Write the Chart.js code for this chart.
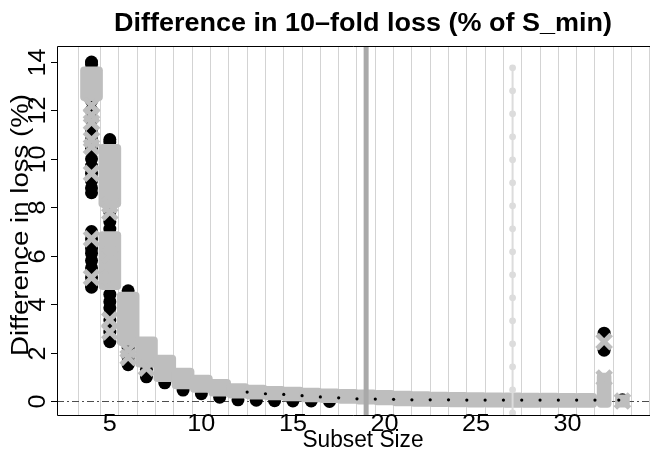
<!DOCTYPE html>
<html>
<head>
<meta charset="utf-8">
<script src="https://cdn.jsdelivr.net/npm/chart.js@4/dist/chart.umd.min.js"></script>
<style>
  html, body { margin:0; padding:0; background:#fff; }
  #wrap { width:665px; height:451px; }
</style>
</head>
<body>
<div id="wrap"><canvas id="c" width="665" height="451"></canvas></div>
<script>
// subset sizes and the spread of the loss difference (%) at each size
const sizes = [4,5,6,7,8,9,10,11,12,13,14,15,16,17,18,19,20,21,22,23,24,25,26,27,28,29,30,31];
const boxLo = [12.4,8.0,2.3,1.4,0.8,0.5,0.35,0.2,0.12,0.08,0.04,0.0,-0.04,-0.07,-0.1,-0.13,-0.16,-0.2,-0.22,-0.23,-0.24,-0.25,-0.25,-0.26,-0.26,-0.27,-0.27,-0.27];
const boxHi = [13.8,10.6,4.5,2.65,1.9,1.36,1.07,0.9,0.72,0.66,0.61,0.57,0.53,0.5,0.48,0.46,0.44,0.41,0.39,0.37,0.36,0.35,0.34,0.34,0.33,0.33,0.32,0.32];

// second cluster at size 5
const lowX  = [5];
const lowLo = [4.6];
const lowHi = [7.0];

// the tail at sizes 32 and 33
const tailX  = [32, 33];
const tailLo = [-0.27, -0.25];
const tailHi = [1.15, 0.25];

// individual models (black) and flagged models (grey crosses)
const blackPts = {
  4:  [14.0,13.9,12.9,12.4,12.0,11.6,11.2,10.8,10.4,10.0,9.7,9.4,9.1,8.8,8.6,7.0,6.7,6.3,6.1,5.8,5.5,5.1,4.7],
  5:  [10.8,10.7,8.2,8.0,7.8,7.4,7.1,6.0,5.1,4.4,4.1,3.85,3.6,3.35,3.1,2.85,2.6,2.45],
  6:  [4.55,2.2,2.0,1.8,1.6,1.5],
  7:  [1.3,1.1,1.0],
  8:  [0.75],
  9:  [0.45],
  10: [0.3],
  11: [0.16],
  12: [0.05], 13: [0.03], 14: [0.01], 15: [0.0], 16: [0.0], 17: [-0.02],
  32: [2.8,2.1,0.4,0.2],
  33: [0.05]
};
const crossPts = {
  4:  [12.2,11.8,11.5,10.8,10.5,9.4,6.7,5.1],
  5:  [8.1,7.8,6.0,5.1,3.35,2.85],
  6:  [2.1,1.8],
  7:  [1.36],
  32: [2.45,0.95],
  33: [0.0]
};

// running mean marks between sizes
const meanX = [12.5,13.5,14.5,15.5,16.5,17.5,18.5,19.5,20.5,21.5,22.5,23.5,24.5,25.5,26.5,27.5,28.5,29.5,30.5,31.5,32.8];
const meanY = [0.37,0.30,0.27,0.22,0.17,0.13,0.09,0.08,0.07,0.05,0.05,0.05,0.04,0.04,0.04,0.04,0.04,0.04,0.04,0.04,0.04];

// reference column at size 27
const refX = 27;
const refY = [13.76,12.81,11.86,10.91,9.96,9.01,8.06,7.11,6.16,5.21,4.26,3.31,2.36,1.41,0.46,-0.49];

const xTicks = [5,10,15,20,25,30];
const yTicks = [0,2,4,6,8,10,12,14];
const bestSize = 19;

const GREY = '#bebebe';
const FONT = '"Liberation Sans", Arial, sans-serif';

const flat = obj => Object.entries(obj).flatMap(([k, vs]) => vs.map(v => ({ x:+k, y:v })));

// text drawn with a horizontal stretch so it fills a given width
const txt = (ctx, s, x, y, font, w, rot) => {
  ctx.save();
  ctx.font = font;
  ctx.translate(x, y);
  if (rot) ctx.rotate(rot);
  const m = ctx.measureText(s).width;
  const sx = w ? w / m : 1;
  ctx.scale(sx, 1);
  ctx.textAlign = 'center';
  ctx.textBaseline = 'middle';
  ctx.fillStyle = '#000';
  ctx.fillText(s, 0, 0);
  ctx.restore();
};

const decor = {
  id: 'decor',
  beforeDatasetsDraw(chart) {
    const { ctx, chartArea: a, scales: { y } } = chart;
    const y0 = Math.round(y.getPixelForValue(0)) + 0.5;
    ctx.save();
    ctx.strokeStyle = '#4d4d4d';
    ctx.lineWidth = 1;
    ctx.setLineDash([7, 3, 2, 3]);
    ctx.beginPath(); ctx.moveTo(a.left, y0); ctx.lineTo(a.right, y0); ctx.stroke();
    ctx.restore();
  },
  afterDatasetsDraw(chart) {
    const { ctx, chartArea: a, scales: { x, y } } = chart;
    ctx.save();
    // chosen subset size
    const xb = x.getPixelForValue(bestSize);
    ctx.strokeStyle = '#a9a9a9';
    ctx.lineWidth = 5;
    ctx.beginPath(); ctx.moveTo(xb, a.top); ctx.lineTo(xb, a.bottom); ctx.stroke();

    // frame
    ctx.strokeStyle = '#000';
    ctx.lineWidth = 1;
    ctx.beginPath();
    ctx.moveTo(a.right, a.top + 0.5); ctx.lineTo(a.left + 0.5, a.top + 0.5);
    ctx.lineTo(a.left + 0.5, a.bottom + 0.5); ctx.lineTo(a.right, a.bottom + 0.5);
    ctx.stroke();

    // y ticks, rotated labels
    yTicks.forEach(v => {
      const py = Math.round(y.getPixelForValue(v)) + 0.5;
      ctx.beginPath(); ctx.moveTo(a.left - 6, py); ctx.lineTo(a.left, py); ctx.stroke();
      txt(ctx, String(v), 39, py, `23px ${FONT}`, String(v).length * 14, -Math.PI / 2);
    });
    // x labels
    xTicks.forEach(v => {
      txt(ctx, String(v), x.getPixelForValue(v), 425, `23px ${FONT}`, String(v).length * 14);
    });
    txt(ctx, 'Subset Size', 363, 441, `23px ${FONT}`, 121);
    txt(ctx, 'Difference in loss (%)', 22, 225, `23px ${FONT}`, 262, -Math.PI / 2);
    txt(ctx, 'Difference in 10\u2013fold loss (% of S_min)', 363, 24, `bold 25px ${FONT}`, 498);
    ctx.restore();
  }
};

const block = (xs, lo, hi, w, order) => ({
  data: xs.map((s, i) => ({ x:s, y:[lo[i], hi[i]] })),
  backgroundColor:GREY, borderRadius:4, borderSkipped:false, grouped:false,
  barThickness:w, order
});

new Chart(document.getElementById('c'), {
  type: 'bar',
  data: {
    datasets: [
      { type:'line', label:'mean', data: meanX.map((v, i) => ({ x:v, y:meanY[i] })),
        showLine:false, pointRadius:1.6, pointBackgroundColor:'#000', pointBorderWidth:0, order:0 },
      { type:'line', label:'ref', data: refY.map(v => ({ x:refX, y:v })),
        borderColor:'#dcdcdc', borderWidth:2, pointRadius:3.4, pointBackgroundColor:'#dcdcdc',
        pointBorderWidth:0, order:1 },
      { type:'line', label:'flagged', data: flat(crossPts), showLine:false,
        pointStyle:'crossRot', pointRadius:10, borderColor:GREY, pointBorderColor:GREY, pointBorderWidth:5, order:2 },
      { label:'spread', ...block(sizes, boxLo, boxHi, 22, 3) },
      { label:'low', ...block(lowX, lowLo, lowHi, 22, 4) },
      { label:'tail', ...block(tailX, tailLo, tailHi, 14, 5) },
      { type:'line', label:'models', data: flat(blackPts), showLine:false,
        pointRadius:6.5, pointBackgroundColor:'#000', pointBorderWidth:0, order:6 }
    ]
  },
  options: {
    responsive:false, animation:false,
    layout: { padding: { left:57, right:0, top:46, bottom:36 } },
    plugins: { legend:{ display:false }, tooltip:{ enabled:false } },
    scales: {
      x: { type:'linear', min:2.62, max:34,
           ticks:{ display:false, stepSize:1 },
           grid:{ color:'#d3d3d3', lineWidth:1, drawTicks:false },
           border:{ display:false },
           afterFit: s => { s.height = 0; } },
      y: { type:'linear', min:-0.578, max:14.66,
           ticks:{ display:false },
           grid:{ display:false, drawTicks:false },
           border:{ display:false },
           afterFit: s => { s.width = 0; } }
    }
  },
  plugins: [decor]
});
</script>
</body>
</html>
